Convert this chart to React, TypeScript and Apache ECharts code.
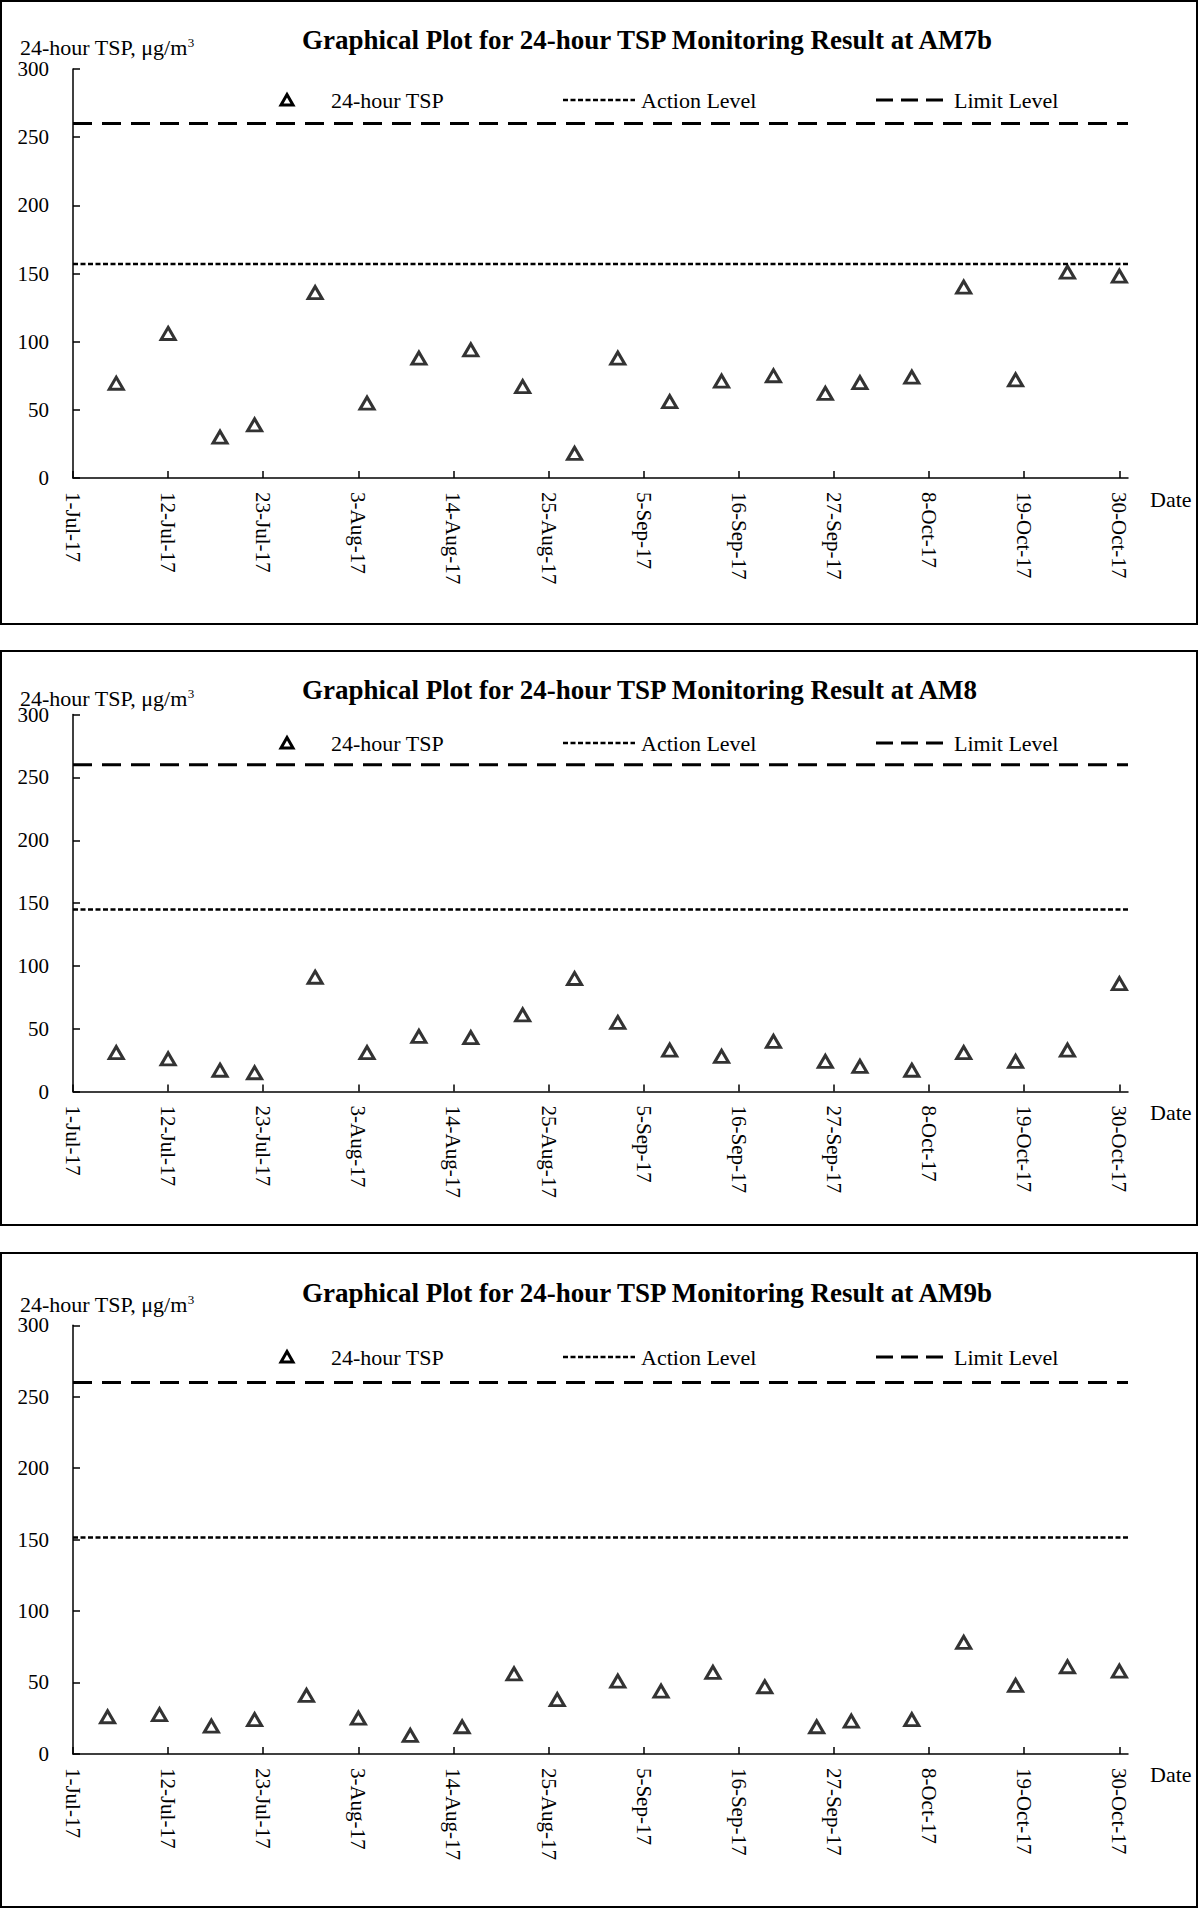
import React, { useEffect, useRef } from "react";
import * as echarts from "echarts";

// ---- data ----
const tickLabels = ["1-Jul-17", "12-Jul-17", "23-Jul-17", "3-Aug-17", "14-Aug-17", "25-Aug-17", "5-Sep-17", "16-Sep-17", "27-Sep-17", "8-Oct-17", "19-Oct-17", "30-Oct-17"];
const axisEndDate = "31-Oct-17";

const stationNames = ["AM7b", "AM8", "AM9b"];

const datesAM7b = ["6-Jul-17", "12-Jul-17", "18-Jul-17", "22-Jul-17", "29-Jul-17", "4-Aug-17", "10-Aug-17", "16-Aug-17", "22-Aug-17", "28-Aug-17", "2-Sep-17", "8-Sep-17", "14-Sep-17", "20-Sep-17", "26-Sep-17", "30-Sep-17", "6-Oct-17", "12-Oct-17", "18-Oct-17", "24-Oct-17", "30-Oct-17"];
const tspAM7b = [69.5, 106, 30, 39, 136, 55, 88, 94, 67, 18, 88, 56, 71, 75, 62, 70, 74, 140, 72, 151, 148];

const datesAM8 = ["6-Jul-17", "12-Jul-17", "18-Jul-17", "22-Jul-17", "29-Jul-17", "4-Aug-17", "10-Aug-17", "16-Aug-17", "22-Aug-17", "28-Aug-17", "2-Sep-17", "8-Sep-17", "14-Sep-17", "20-Sep-17", "26-Sep-17", "30-Sep-17", "6-Oct-17", "12-Oct-17", "18-Oct-17", "24-Oct-17", "30-Oct-17"];
const tspAM8 = [31, 26, 17, 15, 91, 31, 44, 43, 61, 90, 55, 33, 28, 40, 24, 20, 17, 31, 24, 33, 86];

const datesAM9b = ["5-Jul-17", "11-Jul-17", "17-Jul-17", "22-Jul-17", "28-Jul-17", "3-Aug-17", "9-Aug-17", "15-Aug-17", "21-Aug-17", "26-Aug-17", "2-Sep-17", "7-Sep-17", "13-Sep-17", "19-Sep-17", "25-Sep-17", "29-Sep-17", "6-Oct-17", "12-Oct-17", "18-Oct-17", "24-Oct-17", "30-Oct-17"];
const tspAM9b = [26, 27.5, 19.5, 24, 41, 25, 13, 19, 56, 38, 51, 44, 57, 47, 19, 23, 24, 78, 48, 61, 58];

const actionLevels = [157, 145, 151.5];
const limitLevels = [260, 260, 260];

const yTicks = [0, 50, 100, 150, 200, 250, 300];

// ---- helpers ----
const MONTHS = ["Jan", "Feb", "Mar", "Apr", "May", "Jun", "Jul", "Aug", "Sep", "Oct", "Nov", "Dec"];
function toTime(s: string): number {
  const [d, m, y] = s.split("-");
  return Date.UTC(2000 + Number(y), MONTHS.indexOf(m), Number(d));
}
const t0 = toTime(tickLabels[0]);
const dayOf = (s: string) => Math.round((toTime(s) - t0) / 86400000);

const SERIF = '"Liberation Serif", "Times New Roman", serif';

export default function App() {
  const ref = useRef<HTMLDivElement>(null);

  useEffect(() => {
    document.body.style.margin = "0";
    if (!ref.current) return;
    const chart = echarts.init(ref.current, undefined, { renderer: "svg" });

    const tickDays = tickLabels.map(dayOf);
    const xMax = dayOf(axisEndDate);
    const allDates = [datesAM7b, datesAM8, datesAM9b];
    const allVals = [tspAM7b, tspAM8, tspAM9b];

    // panel layout (pixels)
    const panels = [
      { top: 1, h: 623, gridTop: 69, gridH: 409, titleY: 40, nameY: 47, legY: 100 },
      { top: 651, h: 574, gridTop: 714.6, gridH: 377, titleY: 690, nameY: 698, legY: 743 },
      { top: 1253, h: 654, gridTop: 1325.3, gridH: 428.6, titleY: 1293, nameY: 1304, legY: 1357 },
    ];
    const gridLeft = 73;
    const gridW = 1055;

    const grid = panels.map((p) => ({ left: gridLeft, top: p.gridTop, width: gridW, height: p.gridH }));

    const xAxis = panels.map((_, i) => ({
      type: "value",
      gridIndex: i,
      min: 0,
      max: xMax,
      interval: 11,
      axisLine: { show: true, lineStyle: { color: "#000", width: 1.5 } },
      axisTick: { show: true, inside: true, length: 7, customValues: tickDays, lineStyle: { color: "#000", width: 1.5 } },
      axisLabel: {
        customValues: tickDays,
        rotate: -90,
        margin: 14,
        color: "#000",
        fontFamily: SERIF,
        fontSize: 21,
        formatter: (v: number) => {
          const k = tickDays.indexOf(Math.round(v));
          return k >= 0 ? tickLabels[k] : "";
        },
      },
      splitLine: { show: false },
      name: "Date",
      nameLocation: "end",
      nameGap: 22,
      nameTextStyle: { color: "#000", fontFamily: SERIF, fontSize: 22, verticalAlign: "top", padding: [10, 0, 0, 0] },
    }));

    const yAxis = panels.map((_, i) => ({
      type: "value",
      gridIndex: i,
      min: yTicks[0],
      max: yTicks[yTicks.length - 1],
      interval: yTicks[1] - yTicks[0],
      axisLine: { show: true, lineStyle: { color: "#000", width: 1.5 } },
      axisTick: { show: true, inside: true, length: 7, lineStyle: { color: "#000", width: 1.5 } },
      axisLabel: { margin: 24, color: "#000", fontFamily: SERIF, fontSize: 21 },
      splitLine: { show: false },
    }));

    const series: any[] = [];
    panels.forEach((_, i) => {
      series.push({
        type: "line",
        name: "Limit Level",
        xAxisIndex: i,
        yAxisIndex: i,
        data: [[0, limitLevels[i]], [xMax, limitLevels[i]]],
        symbol: "none",
        lineStyle: { color: "#000", width: 3, type: [19, 10] },
        z: 2,
        silent: true,
      });
      series.push({
        type: "line",
        name: "Action Level",
        xAxisIndex: i,
        yAxisIndex: i,
        data: [[0, actionLevels[i]], [xMax, actionLevels[i]]],
        symbol: "none",
        lineStyle: { color: "#000", width: 2.5, type: [5, 2.5] },
        z: 2,
        silent: true,
      });
      series.push({
        type: "scatter",
        name: "24-hour TSP",
        xAxisIndex: i,
        yAxisIndex: i,
        data: allDates[i].map((d, k) => [dayOf(d), allVals[i][k]]),
        symbol: "triangle",
        symbolSize: [14, 12],
        itemStyle: { color: "#fff", borderColor: "#000", borderWidth: 3 },
        z: 5,
      });
    });

    const graphic: any[] = [];
    panels.forEach((p, i) => {
      graphic.push({
        type: "rect",
        shape: { x: 1, y: p.top, width: 1196, height: p.h },
        style: { fill: "none", stroke: "#000", lineWidth: 2 },
        silent: true,
      });
      graphic.push({
        type: "text",
        x: 302,
        y: p.titleY,
        style: {
          text: "Graphical Plot for 24-hour TSP Monitoring Result at " + stationNames[i],
          fontFamily: SERIF,
          fontSize: 27,
          fontWeight: "bold",
          fill: "#000",
          textAlign: "left",
          textVerticalAlign: "middle",
        },
      });
      graphic.push({
        type: "text",
        x: 20,
        y: p.nameY,
        style: {
          text: "24-hour TSP, μg/m{sup|3}",
          fontFamily: SERIF,
          fontSize: 22,
          fill: "#000",
          textAlign: "left",
          textVerticalAlign: "middle",
          lineHeight: 22,
          rich: {
            sup: { fontFamily: SERIF, fontSize: 13, verticalAlign: "top", lineHeight: 13, fill: "#000" },
          },
        },
      });
      // legend
      const ly = p.legY;
      graphic.push({
        type: "polygon",
        shape: { points: [[287, ly - 5.5], [293, ly + 5], [281, ly + 5]] },
        style: { fill: "#fff", stroke: "#000", lineWidth: 3 },
      });
      graphic.push({
        type: "text",
        x: 331,
        y: ly,
        style: { text: "24-hour TSP", fontFamily: SERIF, fontSize: 22, fill: "#000", textAlign: "left", textVerticalAlign: "middle" },
      });
      graphic.push({
        type: "line",
        shape: { x1: 563, y1: ly, x2: 635, y2: ly },
        style: { stroke: "#000", lineWidth: 2.5, lineDash: [5, 2.5] },
      });
      graphic.push({
        type: "text",
        x: 641,
        y: ly,
        style: { text: "Action Level", fontFamily: SERIF, fontSize: 22, fill: "#000", textAlign: "left", textVerticalAlign: "middle" },
      });
      graphic.push({
        type: "line",
        shape: { x1: 876, y1: ly, x2: 947, y2: ly },
        style: { stroke: "#000", lineWidth: 3, lineDash: [17, 8] },
      });
      graphic.push({
        type: "text",
        x: 954,
        y: ly,
        style: { text: "Limit Level", fontFamily: SERIF, fontSize: 22, fill: "#000", textAlign: "left", textVerticalAlign: "middle" },
      });
    });

    chart.setOption({
      animation: false,
      backgroundColor: "#fff",
      textStyle: { fontFamily: SERIF },
      grid,
      xAxis,
      yAxis,
      series,
      graphic,
    });

    return () => chart.dispose();
  }, []);

  return <div ref={ref} style={{ width: 1200, height: 1909 }} />;
}
